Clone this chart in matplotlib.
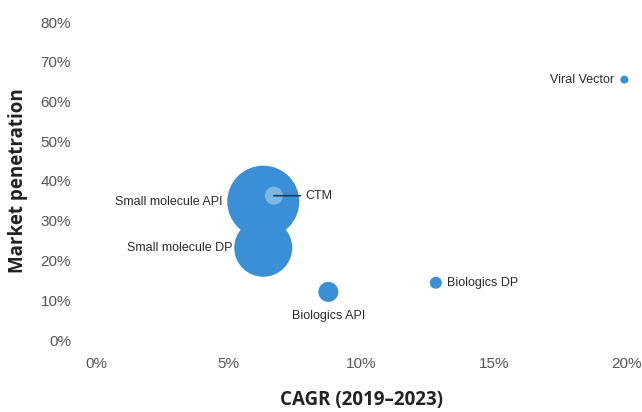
import matplotlib
matplotlib.use("Agg")
import matplotlib.pyplot as plt
from matplotlib.ticker import FuncFormatter

# Data
categories = ["Small molecule API", "Small molecule DP", "CTM", "Biologics API", "Biologics DP", "Viral Vector"]
cagr = [6.3, 6.3, 6.7, 8.75, 12.8, 19.9]            # %
penetration = [34.8, 23.2, 36.3, 12.1, 14.4, 65.5]   # %
bubble_radius = [36, 29, 9, 10, 6, 4]                # relative market size (px radius)
x_ticks = [0, 5, 10, 15, 20]
y_ticks = [0, 10, 20, 30, 40, 50, 60, 70, 80]

narrow = ["Liberation Sans", "DejaVu Sans"]
blue = "#3b8fd6"
light = "#7cb8e6"

fig = plt.figure(figsize=(6.42, 4.12), dpi=100)
ax = fig.add_axes([96/642, 72/412, 531/642, 318/412])
ax.set_xlim(0, 20)
ax.set_ylim(0, 80)

colors = [blue, blue, light, blue, blue, blue]
for i in range(len(categories)):
    s = (2 * bubble_radius[i] * 0.72) ** 2
    ax.scatter(cagr[i], penetration[i], s=s, color=colors[i], edgecolors="none",
               clip_on=False, zorder=3 if categories[i] != "CTM" else 4)

# labels
lab_style = dict(fontsize=9, color="#2a2a2a", family=narrow)
ax.annotate("Small molecule API", (cagr[0], penetration[0]), xytext=(-29, 0),
            textcoords="offset points", ha="right", va="center", **lab_style)
ax.annotate("Small molecule DP", (cagr[1], penetration[1]), xytext=(-22, 0),
            textcoords="offset points", ha="right", va="center", **lab_style)
ax.annotate("CTM", (cagr[2], penetration[2]), xytext=(23, 0),
            textcoords="offset points", ha="left", va="center",
            arrowprops=dict(arrowstyle="-", color="#1a3a55", lw=1.2,
                            shrinkA=2, shrinkB=0), zorder=5, **lab_style)
ax.annotate("Biologics API", (cagr[3], penetration[3]), xytext=(0, -17),
            textcoords="offset points", ha="center", va="center", **lab_style)
ax.annotate("Biologics DP", (cagr[4], penetration[4]), xytext=(8, 0),
            textcoords="offset points", ha="left", va="center", **lab_style)
ax.annotate("Viral Vector", (cagr[5], penetration[5]), xytext=(-7, 0),
            textcoords="offset points", ha="right", va="center", **lab_style)

ax.set_xticks(x_ticks)
ax.set_yticks(y_ticks)
ax.xaxis.set_major_formatter(FuncFormatter(lambda v, p: f"{v:.0f}%"))
ax.yaxis.set_major_formatter(FuncFormatter(lambda v, p: f"{v:.0f}%"))
ax.tick_params(length=0, labelsize=11, labelcolor="#555555", pad=0)
ax.tick_params(axis="x", pad=12)
ax.tick_params(axis="y", pad=18)
for lbl in ax.get_xticklabels() + ax.get_yticklabels():
    lbl.set_family(narrow)
for sp in ax.spines.values():
    sp.set_visible(False)

ax.set_xlabel("CAGR (2019–2023)", fontsize=13.5, fontweight="bold", color="#222222",
              family=["Open Sans", "DejaVu Sans"], va="center")
ax.set_ylabel("Market penetration", fontsize=13.5, fontweight="bold", color="#222222",
              family=["Open Sans", "DejaVu Sans"], va="center")
ax.xaxis.set_label_coords(0.5, (12 - 72) / 318)
ax.yaxis.set_label_coords((18 - 96) / 531, 0.5)

fig.savefig("out.png", dpi=100)
